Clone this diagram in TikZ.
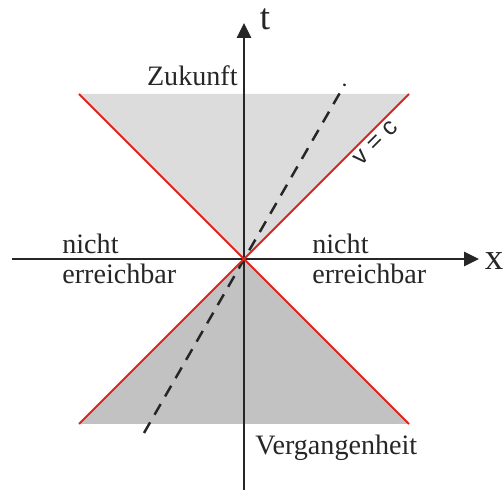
\documentclass[tikz,border=0pt]{standalone}
\usepackage{fontspec}
\setmainfont{Liberation Serif}
\setsansfont{Liberation Sans}
\usepackage{xcolor}
\usepackage{tikz}
\usetikzlibrary{arrows.meta, positioning, calc}
\definecolor{futuregray}{HTML}{DCDCDC}
\definecolor{pastgray}{HTML}{C2C2C2}
\definecolor{conered}{HTML}{E0231E}
\tikzset{
  axisline/.style={
    -{Triangle[length=3mm, width=2.8mm]}, line width=1.6pt, black!85
  },
  coneline/.style={
    line width=1.1pt, color=conered
  },
  worldline/.style={
    dashed, line width=1.4pt, dash pattern=on 7pt off 5pt, black!85
  },
  regionlabel/.style={
    font=\fontsize{16}{17}\selectfont, text=black!85, inner sep=0pt, align=left
  },
  axislabel/.style={
    font=\fontsize{21}{21}\selectfont, text=black!85, inner sep=0pt
  },
}

\begin{document}
\begin{tikzpicture}
  \useasboundingbox (-4.88,-4.62) rectangle (5.2,5.18);

  % === Light cone corners ===
  \coordinate (o) at (0,0);
  \coordinate (ul) at (-3.3,3.3);
  \coordinate (ur) at (3.3,3.3);
  \coordinate (ll) at (-3.3,-3.3);
  \coordinate (lr) at (3.3,-3.3);

  % === Future and past cones ===
  \fill[futuregray] (o) -- (ul) -- (ur) -- cycle;
  \fill[pastgray] (o) -- (ll) -- (lr) -- cycle;

  % === Axes ===
  \coordinate (tbot) at (0,-4.62);
  \coordinate (ttop) at (0,4.72);
  \coordinate (xleft) at (-4.64,0);
  \coordinate (xright) at (4.7,0);
  \draw[axisline] (tbot) -- (ttop);
  \draw[axisline] (xleft) -- (xright);
  \node[axislabel] (tlab) at (0.42,4.8) {t};
  \node[axislabel] (xlab) at (5.0,-0.04) {x};

  % === Dashed world line ===
  \coordinate (wbot) at (-2.0,-3.48);
  \coordinate (wtop) at (2.02,3.5);
  \draw[worldline] (wbot) -- (wtop);

  % === Light rays ===
  \draw[coneline] (ll) -- (ur)
    node[pos=0.875, sloped, below=2pt, inner sep=0pt, font=\sffamily\fontsize{14}{14}\selectfont, text=black!85] (vc) {v = c};
  \draw[coneline] (lr) -- (ul);

  % === Region labels ===
  \node[regionlabel, anchor=east] (future) at (-0.12,3.66) {Zukunft};
  \node[regionlabel, anchor=west] (past) at (0.22,-3.78) {Vergangenheit};
  \node[regionlabel, anchor=west] (leftout) at (-3.64,0) {nicht\\erreichbar};
  \node[regionlabel, anchor=west] (rightout) at (1.36,0) {nicht\\erreichbar};

\end{tikzpicture}
\end{document}
